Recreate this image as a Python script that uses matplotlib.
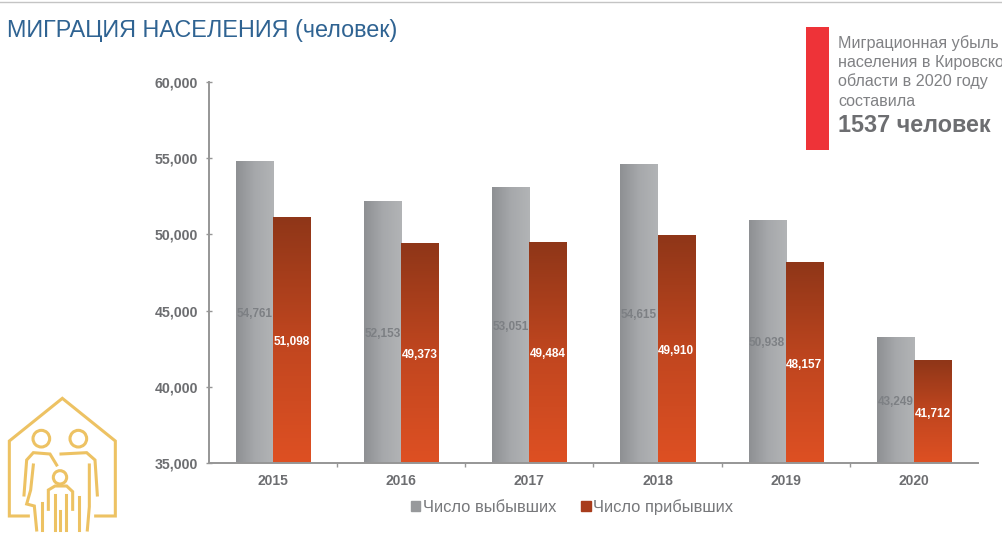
import numpy as np
import matplotlib
matplotlib.use("Agg")
import matplotlib.pyplot as plt
from matplotlib.colors import LinearSegmentedColormap
from matplotlib.patches import Patch, Rectangle, Circle

plt.rcParams["font.family"] = ["Liberation Sans", "DejaVu Sans"]

## Data
years = ["2015", "2016", "2017", "2018", "2019", "2020"]
left_people = [54761, 52153, 53051, 54615, 50938, 43249]
arrived_people = [51098, 49373, 49484, 49910, 48157, 41712]
y_ticks = [35000, 40000, 45000, 50000, 55000, 60000]
series_names = ["Число выбывших", "Число прибывших"]
note_lines = ["Миграционная убыль", "населения в Кировской", "области в 2020 году", "составила"]

W, H = 1003, 550
TEXT_GREY = "#6d6e71"

fig = plt.figure(figsize=(W / 100, H / 100), dpi=100)
ax = fig.add_axes([209 / W, 1 - 463 / H, (978 - 209) / W, (463 - 82) / H])

# gradients: grey runs sideways, red runs from dark top to bright bottom
grey_cmap = LinearSegmentedColormap.from_list("g", ["#8e9093", "#a6a8ab", "#b2b4b6"])
red_cmap = LinearSegmentedColormap.from_list("r", ["#8f3618", "#c0461f", "#de5023"])
grey_grad = np.linspace(0, 1, 64).reshape(1, -1)
red_grad = np.linspace(0, 1, 128).reshape(-1, 1)

bar_w = 0.29
x = np.arange(len(years))
for i, (a, b) in enumerate(zip(left_people, arrived_people)):
    ax.imshow(grey_grad, cmap=grey_cmap, aspect="auto", zorder=2,
              extent=[i - bar_w, i, 35000, a])
    ax.imshow(red_grad, cmap=red_cmap, aspect="auto", zorder=2,
              extent=[i, i + bar_w, 35000, b])
    ax.annotate(f"{a:,}", (i - bar_w / 2, (35000 + a) / 2), xytext=(0, -1.3), textcoords="offset points",
                ha="center", va="center", fontsize=8.5, fontweight="bold", color="#7d8084", zorder=3)
    ax.annotate(f"{b:,}", (i + bar_w / 2, (35000 + b) / 2), xytext=(0, -1.3), textcoords="offset points",
                ha="center", va="center", fontsize=8.5, fontweight="bold", color="white", zorder=3)

ax.set_xlim(-0.5, len(years) - 0.5)
ax.set_ylim(35000, 60000)
ax.set_yticks(y_ticks)
ax.set_yticklabels([f"{v:,}" for v in y_ticks], fontsize=10.2, fontweight="bold", color=TEXT_GREY)
ax.set_xticks(x)
ax.set_xticklabels(years, fontsize=10, fontweight="bold", color=TEXT_GREY)
ax.set_xticks(x[:-1] + 0.5, minor=True)
ax.tick_params(axis="x", which="major", length=0, pad=8)
ax.tick_params(axis="x", which="minor", length=3, color="#969696", width=1)
ax.tick_params(axis="y", length=4, color="#969696", width=1, pad=6, direction="inout")
for side in ["top", "right"]:
    ax.spines[side].set_visible(False)
for side in ["left", "bottom"]:
    ax.spines[side].set_color("#969696")
    ax.spines[side].set_linewidth(1.4)

handles = [Patch(color="#97999b"), Patch(color="#a83c1c")]
fig.legend(handles, series_names, loc="center", bbox_to_anchor=(572 / W, 1 - 507 / H), ncol=2,
           frameon=False, fontsize=11.9, labelcolor="#77787b", handlelength=0.6, handleheight=0.6,
           handletextpad=0.15, columnspacing=1.5)

## Page decoration, placed in pixels
page = fig.add_axes([0, 0, 1, 1], zorder=5)
page.set_xlim(0, W)
page.set_ylim(H, 0)
page.axis("off")
page.patch.set_alpha(0)
page.plot([0, W], [2, 2], color="#c4c4c4", lw=1)
page.text(7, 30, "МИГРАЦИЯ НАСЕЛЕНИЯ (человек)", fontsize=16.85, color="#2f6392", va="center")
page.add_patch(Rectangle((806, 27), 23, 123, color="#ee3338", lw=0))
for line, y in zip(note_lines, [43, 62, 81, 101]):
    page.text(838, y, line, fontsize=11.6, color="#808184", va="center", clip_on=True)
page.text(838, 125, "1537 человек", fontsize=16.8, fontweight="bold", color=TEXT_GREY, va="center")

## Family icon, coordinates taken from a 3x crop of the corner
icon = fig.add_axes([0, 0, 120 / W, 170 / H], zorder=4)
icon.set_xlim(0, 360)
icon.set_ylim(510, 0)
icon.axis("off")
icon.patch.set_alpha(0)
gold = "#edc263"
icon_lines = [
    [(85, 408), (28, 408), (28, 183), (187, 55), (346, 183), (346, 408), (287, 408)],
    [(72, 345), (80, 240), (100, 218), (150, 222), (170, 255)],
    [(100, 255), (92, 330), (80, 372), (103, 378), (110, 450)],
    [(127, 368), (127, 450)],
    [(183, 222), (260, 218), (285, 240), (292, 345)],
    [(268, 255), (268, 380), (262, 450)],
    [(237, 350), (237, 450)],
    [(145, 388), (145, 330), (165, 318), (200, 318), (218, 335), (218, 388)],
    [(165, 345), (165, 450)],
    [(198, 345), (198, 450)],
    [(181, 392), (181, 450)],
]
for pts in icon_lines:
    xs, ys = zip(*pts)
    icon.plot(xs, ys, color=gold, lw=2.2, solid_joinstyle="miter")
for cx, cy, r in [(124, 176, 25), (235, 176, 25), (180, 292, 20)]:
    icon.add_patch(Circle((cx, cy), r, fill=False, ec=gold, lw=2.2))

fig.savefig("out.png", dpi=100)
